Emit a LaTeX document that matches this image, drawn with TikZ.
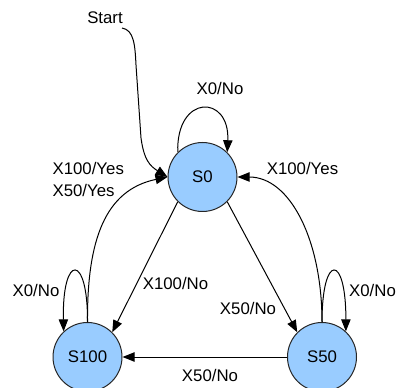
\documentclass[tikz,border=0pt]{standalone}
\usepackage{fontspec}
\setmainfont{Liberation Sans}
\usetikzlibrary{arrows.meta}
\definecolor{statefill}{RGB}{153,204,255}

\begin{document}
\begin{tikzpicture}[
    x=0.75pt, y=-0.75pt,
    font=\fontsize{12.6}{16.5}\selectfont,
    >={Triangle[length=9pt,width=7pt]},
    state/.style={circle, draw=black!85, fill=statefill, line width=0.75pt,
      minimum size=51.75pt, inner sep=0pt},
    lab/.style={inner sep=1pt},
    edge/.style={->, line width=0.75pt},
  ]
  \useasboundingbox (0,0) rectangle (396,388);
  %% ---- states --------------------------------------------------------
  \node[state] (s0)   at (202.5,177) {S0};
  \node[state] (s100) at (87.5,357)  {S100};
  \node[state] (s50)  at (322,357)   {S50};

  %% ---- start ---------------------------------------------------------
  \node[lab] (start) at (105,18) {Start};
  \coordinate (st) at (122,28);
  \draw[edge] (st) .. controls (134,30) and (135,45) .. (136,65)
    -- (141,138) .. controls (144,160) and (150,166) .. (s0.west);

  %% ---- self loops ----------------------------------------------------
  \draw[edge] (s0.135) .. controls (176,94) and (230,94) .. (s0.45);
  \node[lab] (l00) at (220,88) {X0/No};
  \draw[edge] (s100.90) .. controls (88,253) and (62,253) .. (s100.133);
  \node[lab] (l100) at (36,290) {X0/No};
  \draw[edge] (s50.90) .. controls (322,253) and (346,253) .. (s50.47);
  \node[lab] (l50) at (372.5,290) {X0/No};

  %% ---- back to S0 ----------------------------------------------------
  \draw[edge] (s100.90) .. controls (87,240) and (105,190) .. (s0.west);
  \node[lab, align=left, anchor=west] (lyes) at (51,179) {X100/Yes\\X50/Yes};
  \draw[edge] (s50.90) .. controls (322,240) and (290,177) .. (s0.east);
  \node[lab] (ryes) at (302.5,168) {X100/Yes};

  %% ---- straight edges ------------------------------------------------
  \draw[edge] (s0.225) -- (s100.45);
  \node[lab] (lno) at (175.5,283) {X100/No};
  \draw[edge] (s0.-45) -- (s50.135);
  \node[lab] (rno) at (248,308) {X50/No};
  \draw[edge] (s50.west) -- (s100.east);
  \node[lab] (bno) at (210,375) {X50/No};
\end{tikzpicture}
\end{document}
